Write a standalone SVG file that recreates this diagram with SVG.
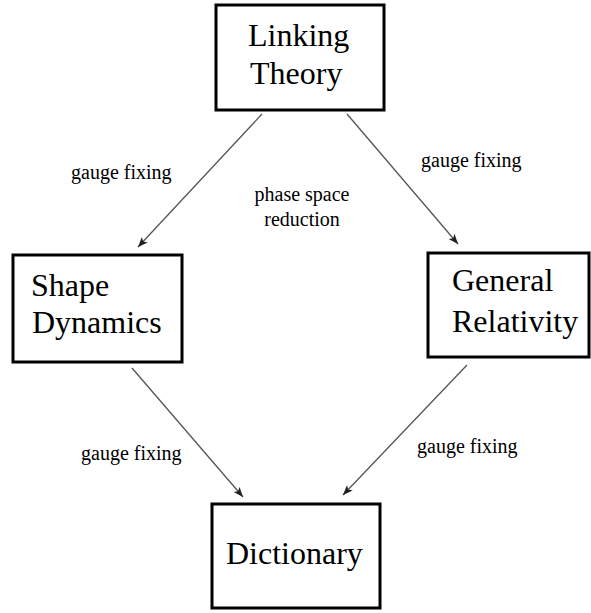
<svg xmlns="http://www.w3.org/2000/svg" width="591" height="613" viewBox="0 0 591 613">
<style>
.box{fill:#fff;stroke:#000;stroke-width:3}
.nt{font-family:"Liberation Serif","Times New Roman",serif;font-size:32px;fill:#000}
.lb{font-family:"Liberation Serif","Times New Roman",serif;font-size:20px;fill:#000}
.edge{stroke:#555;stroke-width:1.3;fill:none;marker-end:url(#ah)}
</style>
<defs>
<marker id="ah" viewBox="0 0 10 8" refX="10" refY="4" markerWidth="10" markerHeight="8" markerUnits="userSpaceOnUse" orient="auto">
<path d="M0,0 L10,4 L0,8 L2.5,4 Z" fill="#222"/>
</marker>
</defs>
<rect width="591" height="613" fill="#fff"/>
<g id="connectors">
<line class="edge" x1="262" y1="114" x2="138" y2="247"/>
<line class="edge" x1="347" y1="114" x2="458" y2="244"/>
<line class="edge" x1="132" y1="368" x2="243" y2="497"/>
<line class="edge" x1="467" y1="365" x2="343" y2="495"/>
</g>
<g id="labels">
<text class="lb" x="71" y="179">gauge fixing</text>
<text class="lb" x="421" y="167">gauge fixing</text>
<text class="lb" x="302" y="201" text-anchor="middle">phase space</text>
<text class="lb" x="302" y="226" text-anchor="middle">reduction</text>
<text class="lb" x="81" y="460">gauge fixing</text>
<text class="lb" x="417" y="453">gauge fixing</text>
</g>
<g id="linking-theory">
<rect class="box" x="216" y="5" width="168" height="105"/>
<text class="nt" x="248" y="46">Linking</text>
<text class="nt" x="250" y="84">Theory</text>
</g>
<g id="shape-dynamics">
<rect class="box" x="13" y="255" width="169" height="107"/>
<text class="nt" x="31" y="296">Shape</text>
<text class="nt" x="32" y="333">Dynamics</text>
</g>
<g id="general-relativity">
<rect class="box" x="428" y="253" width="161" height="104"/>
<text class="nt" x="452" y="291">General</text>
<text class="nt" x="452" y="332">Relativity</text>
</g>
<g id="dictionary">
<rect class="box" x="212" y="504" width="168" height="104"/>
<text class="nt" x="226" y="564">Dictionary</text>
</g>
</svg>
